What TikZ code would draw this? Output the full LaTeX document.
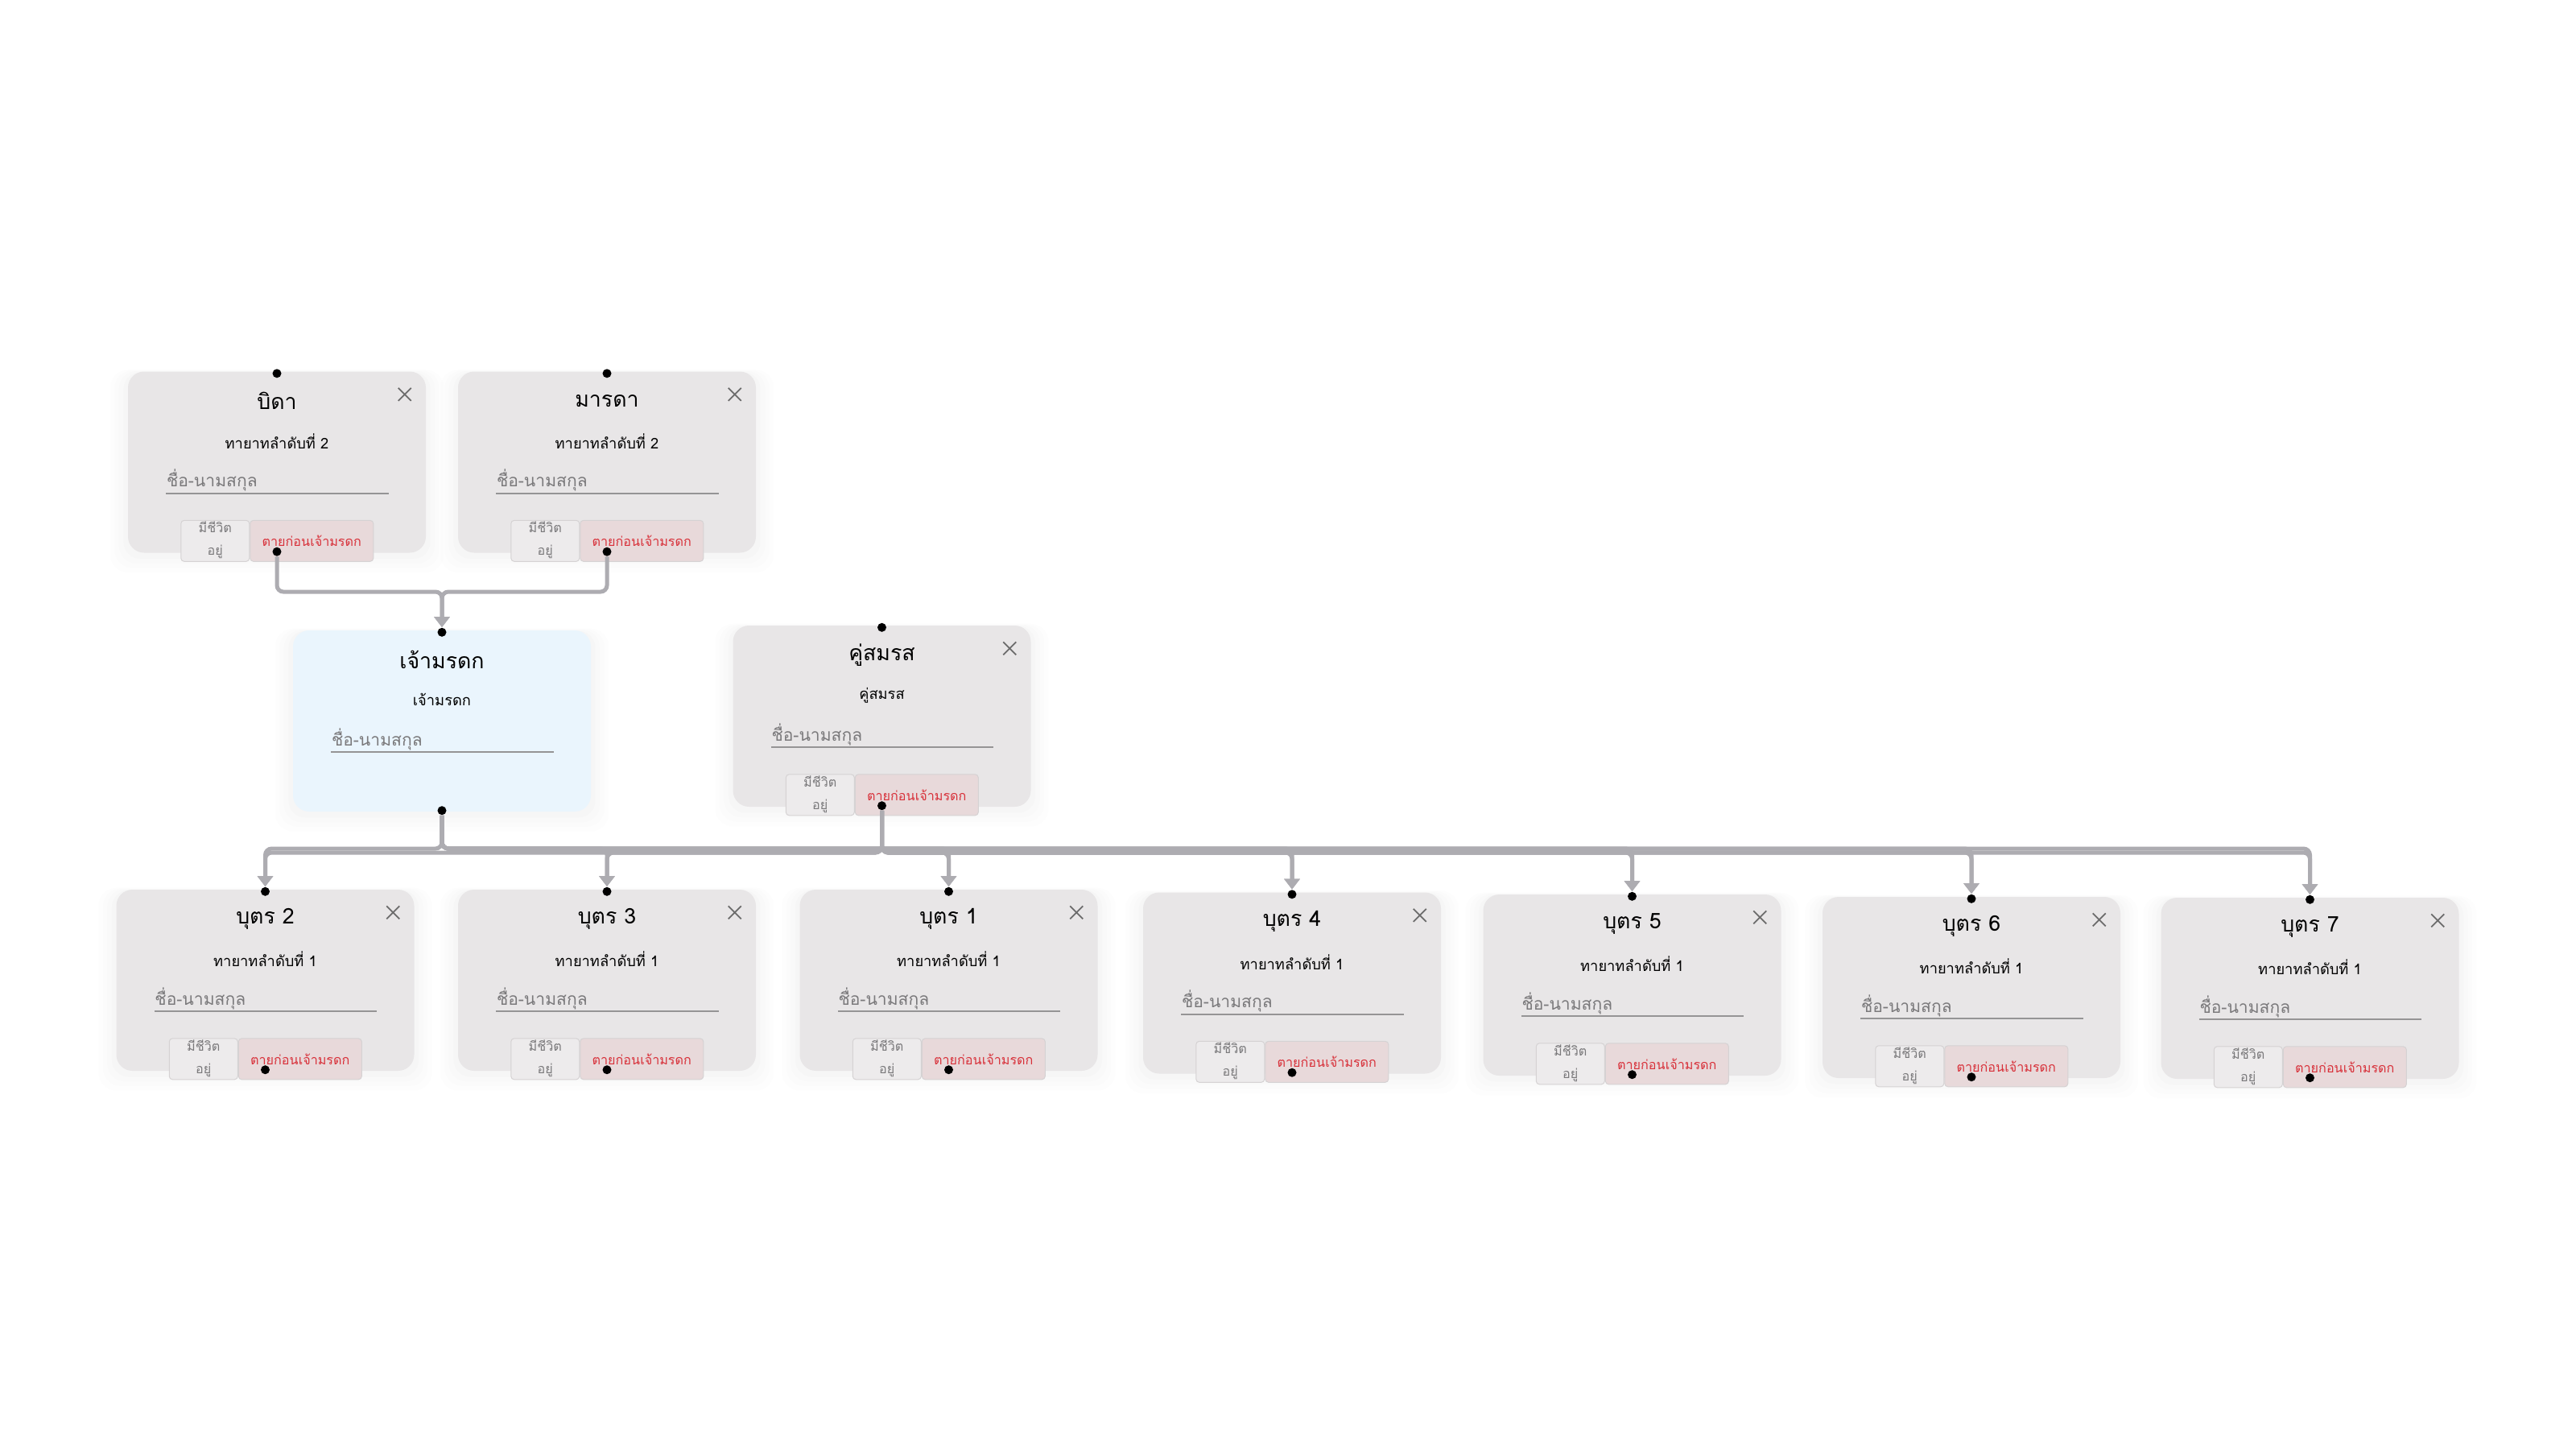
\documentclass[tikz,border=0pt]{standalone}
\usepackage{fontspec}
\newfontfamily\thaifont[Script=Thai]{Loma}
\usetikzlibrary{arrows.meta,positioning,shadows}
\definecolor{cardgray}{HTML}{E8E6E7}
\definecolor{heirblue}{HTML}{EAF5FD}
\definecolor{linkgray}{HTML}{ADACB1}
\definecolor{hintgray}{HTML}{7A797B}
\definecolor{alivefill}{HTML}{EDEBEC}
\definecolor{boxline}{HTML}{D5D2D3}
\definecolor{deadfill}{HTML}{E8D9DA}
\definecolor{deadred}{HTML}{D8313A}
\tikzset{
  halo/.style={
    drop shadow={opacity=0.018, shadow xshift=0cm, shadow yshift=-0.04cm, shadow scale=1.03},
    drop shadow={opacity=0.015, shadow xshift=0cm, shadow yshift=-0.06cm, shadow scale=1.06},
    drop shadow={opacity=0.012, shadow xshift=0cm, shadow yshift=-0.08cm, shadow scale=1.09},
    drop shadow={opacity=0.010, shadow xshift=0cm, shadow yshift=-0.10cm, shadow scale=1.12}},
  card/.style={rectangle, rounded corners=0.2cm, minimum width=3.7cm,
    minimum height=2.25cm, fill=cardgray, halo},
  heircard/.style={fill=heirblue},
  cardtitle/.style={font=\thaifont\fontsize{7.6}{9}\selectfont, inner sep=0pt},
  cardsub/.style={font=\thaifont\fontsize{5.2}{6}\selectfont, inner sep=0pt},
  namehint/.style={font=\thaifont\fontsize{6}{7}\selectfont, text=hintgray, anchor=base west, inner sep=0pt},
  nameline/.style={draw=hintgray!80, line width=0.02cm},
  closex/.style={draw=gray!85!black, line width=0.018cm},
  alivebox/.style={rectangle, anchor=north west, minimum width=0.85cm, minimum height=0.51cm,
    fill=alivefill, draw=boxline, line width=0.01cm, rounded corners=0.04cm, inner sep=0pt},
  deadbox/.style={rectangle, anchor=north west, minimum width=1.53cm, minimum height=0.51cm,
    fill=deadfill, draw=boxline, line width=0.01cm, rounded corners=0.04cm, inner sep=0pt},
  alivetext/.style={font=\thaifont\fontsize{4.6}{5}\selectfont, text=hintgray, inner sep=0pt},
  deadtext/.style={font=\thaifont\fontsize{4.6}{5}\selectfont, text=deadred, inner sep=0pt},
  dot/.style={circle, fill=black, inner sep=0pt, minimum size=0.11cm},
  link/.style={draw=linkgray, line width=0.05cm, rounded corners=0.08cm,
    -{Triangle[length=0.13cm,width=0.19cm]}}
}
% text and underline of a card
\newcommand{\cardtext}[3]{%
  \node[cardtitle] (#1-title) at ([yshift=-0.37cm]#1.north) {#2};
  \node[cardsub] (#1-sub) at ([yshift=-0.87cm]#1.north) {#3};
  \node[namehint] (#1-name) at ([xshift=0.48cm,yshift=-1.44cm]#1.north west) {ชื่อ-นามสกุล};
  \draw[nameline] ([xshift=0.48cm,yshift=-1.52cm]#1.north west)
    -- ([xshift=-0.47cm,yshift=-1.52cm]#1.north east);
}
% close mark and status toggle
\newcommand{\cardstatus}[1]{%
  \draw[closex] ([xshift=-0.35cm,yshift=-0.21cm]#1.north east) -- ++(0.16,-0.16)
    ([xshift=-0.19cm,yshift=-0.21cm]#1.north east) -- ++(-0.16,-0.16);
  \node[alivebox] (#1-alive) at ([xshift=0.66cm,yshift=-1.85cm]#1.north west) {};
  \node[deadbox] (#1-dead) at (#1-alive.north east) {};
  \node[alivetext] at ([yshift=-0.09cm]#1-alive.north) {มีชีวิต};
  \node[alivetext] at ([yshift=-0.40cm]#1-alive.north) {อยู่};
  \node[deadtext] at (#1-dead.center) {ตายก่อนเจ้ามรดก};
}
\newcommand{\carddots}[1]{%
  \node[dot] (#1-top) at ([yshift=-0.03cm]#1.north) {};
  \node[dot] (#1-bot) at ([yshift=0.02cm]#1.south) {};
}
\newcommand{\personcard}[4]{%
  \node[card] (#1) at (#4) {};
  \cardtext{#1}{#2}{#3}
  \cardstatus{#1}
  \carddots{#1}
}

\begin{document}
\begin{tikzpicture}
\fill[white] (0,0) rectangle (32,-18);
\useasboundingbox (0,0) rectangle (32,-18);

% parents
\personcard{dad}{บิดา}{ทายาทลำดับที่ 2}{3.44,-5.74}
\personcard{mom}{มารดา}{ทายาทลำดับที่ 2}{7.54,-5.74}

% heir and spouse
\node[card,heircard] (heir) at (5.49,-8.955) {};
\cardtext{heir}{เจ้ามรดก}{เจ้ามรดก}
\carddots{heir}
\personcard{spouse}{คู่สมรส}{คู่สมรส}{10.955,-8.895}

% children
\personcard{c2}{บุตร 2}{ทายาทลำดับที่ 1}{3.295,-12.175}
\personcard{c3}{บุตร 3}{ทายาทลำดับที่ 1}{7.54,-12.175}
\personcard{c1}{บุตร 1}{ทายาทลำดับที่ 1}{11.785,-12.175}
\personcard{c4}{บุตร 4}{ทายาทลำดับที่ 1}{16.05,-12.21}
\personcard{c5}{บุตร 5}{ทายาทลำดับที่ 1}{20.275,-12.235}
\personcard{c6}{บุตร 6}{ทายาทลำดับที่ 1}{24.49,-12.265}
\personcard{c7}{บุตร 7}{ทายาทลำดับที่ 1}{28.695,-12.275}

% links
\coordinate (pjoin) at (5.49,-7.35);
\draw[link] (dad-bot) |- (pjoin) -- (heir-top);
\draw[link] (mom-bot) |- (pjoin) -- (heir-top);

\coordinate (busa) at (0,-10.54);
\coordinate (busb) at (0,-10.59);
\foreach \kid in {c1,c2,c3,c4,c5,c6,c7} {
  \draw[link] (heir-bot) -- (heir-bot |- busa) -| (\kid-top);
  \draw[link] (spouse-bot) -- (spouse-bot |- busb) -| (\kid-top);
}
\end{tikzpicture}
\end{document}
